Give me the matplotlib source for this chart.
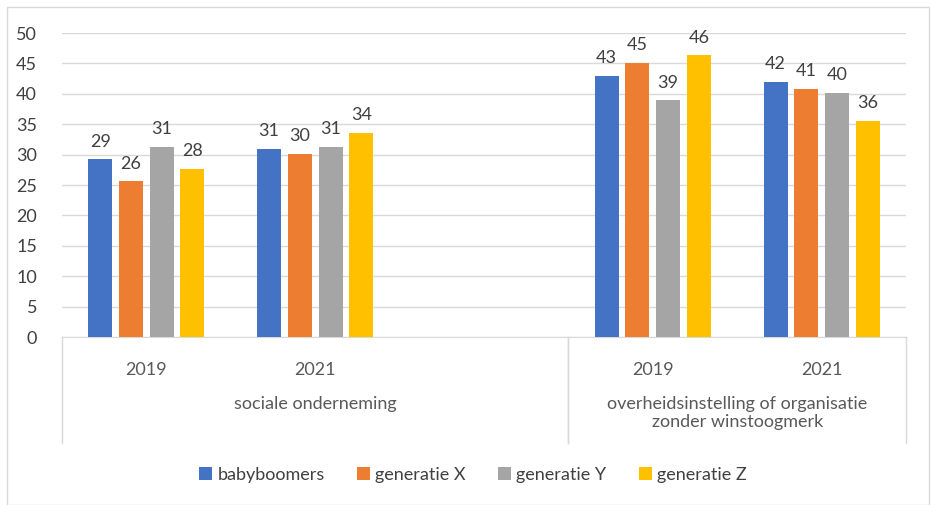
import numpy as np
import matplotlib.pyplot as plt
from matplotlib.patches import Rectangle
from matplotlib.transforms import blended_transform_factory

plt.rcParams['font.family'] = ['Lato', 'DejaVu Sans']

# data
series = ['babyboomers', 'generatie X', 'generatie Y', 'generatie Z']
years = ['2019', '2021', '2019', '2021']
groups = ['sociale onderneming', 'overheidsinstelling of organisatie\nzonder winstoogmerk']
slot_of_year = [0, 1, 3, 4]          # slot 2 is an empty category in group 1
group_slots = [(0, 3), (3, 5)]       # slot range per group
values = {
    'babyboomers': [29.2, 30.9, 42.9, 42.0],
    'generatie X': [25.6, 30.1, 45.1, 40.8],
    'generatie Y': [31.3, 31.3, 38.9, 40.2],
    'generatie Z': [27.6, 33.6, 46.3, 35.6],
}
colors = ['#4472C4', '#ED7D31', '#A5A5A5', '#FFC000']

fs = 13
fig = plt.figure(figsize=(9.31, 5.05), dpi=100)
ax = fig.add_axes([62/931, 1-337/505, (906-62)/931, (337-33)/505])

n_slots = 5
centers = np.array(slot_of_year) + 0.5
bw = 0.142
step = 0.182
for i, s in enumerate(series):
    xs = centers + (i - 1.5)*step
    bars = ax.bar(xs, values[s], width=bw, color=colors[i], label=s, zorder=3)
    ax.bar_label(bars, labels=['%d' % round(v) for v in values[s]], padding=7,
                 fontsize=fs, color='#404040')

ax.set_xlim(0, n_slots)
ax.set_ylim(0, 50)
ax.set_yticks(np.arange(0, 51, 5))
ax.grid(axis='y', color='#d9d9d9', lw=1, zorder=0)
for sp in ['top', 'left', 'right']:
    ax.spines[sp].set_visible(False)
ax.spines['bottom'].set_color('#d9d9d9')
ax.tick_params(axis='y', length=0, labelsize=fs, labelcolor='#404040', pad=18)
ax.set_xticks(centers)
ax.set_xticklabels(years)
ax.tick_params(axis='x', length=0, labelsize=fs, labelcolor='#595959', pad=18)

# multi-level category axis
tr = blended_transform_factory(ax.transData, ax.transAxes)
sep_bottom = -(443-337)/(337-33)
for a, b in group_slots:
    for xv in (a, b):
        ax.plot([xv, xv], [0, sep_bottom], transform=tr, color='#d9d9d9',
                lw=1, clip_on=False)
for (a, b), g in zip(group_slots, groups):
    ax.text((a + b)/2, -(396-337)/(337-33), g, transform=tr, ha='center',
            va='top', fontsize=fs, color='#595959', linespacing=1.15)

fig.legend(loc='center', bbox_to_anchor=(473/931, 1-475/505), ncol=4,
           frameon=False, fontsize=fs, handlelength=0.7, handleheight=0.7,
           handletextpad=0.3, columnspacing=1.8, labelcolor='#404040')

fig.patches.append(Rectangle((7/931, 0), 922/931, 1-7/505, transform=fig.transFigure,
                             fill=False, edgecolor='#d9d9d9', lw=1))

fig.savefig('out.png', dpi=100)
